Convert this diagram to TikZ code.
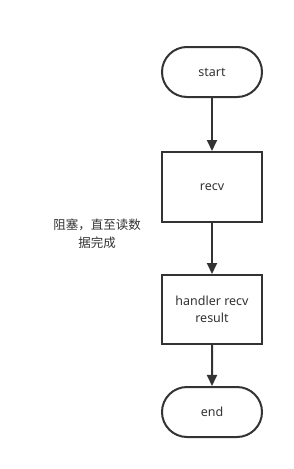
\documentclass[tikz,border=0pt]{standalone}
\usepackage{fontspec}
\setmainfont{Noto Sans}
\newfontfamily\cjk{Noto Sans CJK SC}
\usetikzlibrary{arrows.meta,shapes.misc}
\definecolor{ln}{HTML}{333333}
\tikzset{
  every node/.style={font=\fontsize{12.5}{17}\selectfont, text=ln},
  term/.style={draw=ln, line width=2pt, rounded rectangle, minimum width=100pt, minimum height=50pt, inner sep=0pt},
  proc/.style={draw=ln, line width=2pt, rectangle, minimum width=100pt, minimum height=70pt, inner sep=0pt, align=center},
  conn/.style={draw=ln, line width=2pt, -{Triangle[length=11pt,width=10pt]}}
}
\begin{document}
\begin{tikzpicture}[x=1pt,y=-1pt]
\useasboundingbox (0,0) rectangle (294,469);
\node[term] (start) at (212,72) {start};
\node[proc] (recv) at (212,187) {recv};
\node[proc, minimum height=69pt] (handler) at (212,309.5) {handler recv\\result};
\node[term] (end) at (212,412) {end};
\node[align=center, font=\cjk\fontsize{12.5}{18}\selectfont] (note) at (97,234) {阻塞，直至读数\\据完成};
\draw[conn] (start) -- (recv);
\draw[conn] (recv) -- (handler);
\draw[conn] (handler) -- (end);
\end{tikzpicture}
\end{document}
